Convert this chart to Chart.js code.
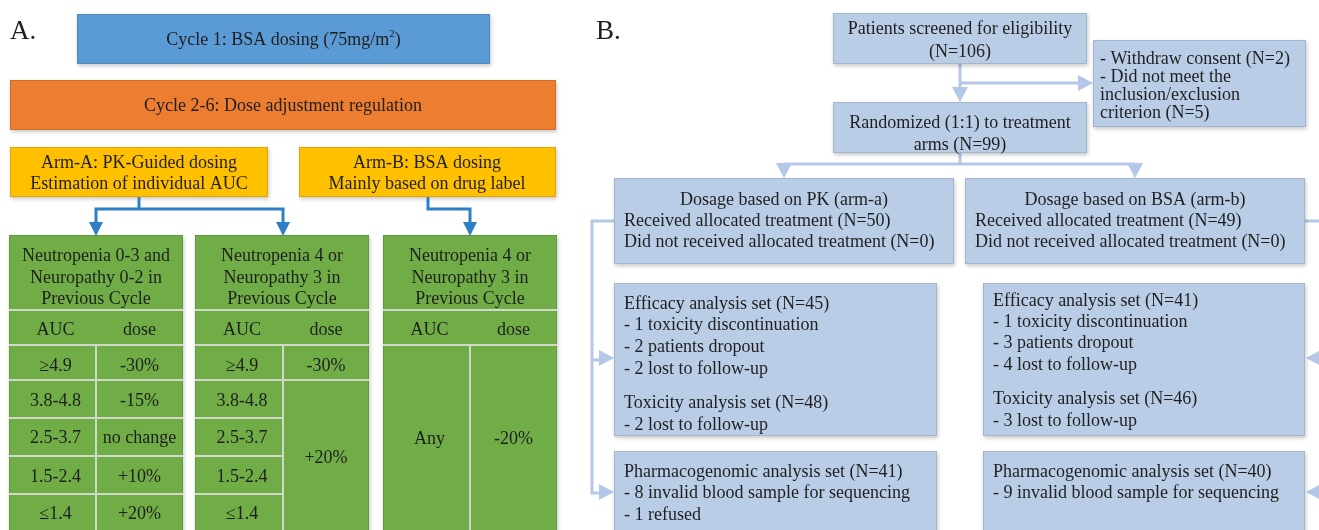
<!DOCTYPE html>
<html>
<head>
<meta charset="utf-8">
<style>
  html, body { margin: 0; padding: 0; background: #fff; }
  #wrap { width: 1319px; height: 530px; }
</style>
</head>
<body>
<div id="wrap"><canvas id="chart" width="1319" height="530"></canvas></div>
<script src="https://cdn.jsdelivr.net/npm/chart.js@4"></script>
<script>
// ---- panel A texts
const panelLabels = ['A.', 'B.'];
const cycleOne = ['Cycle 1: BSA dosing (75mg/m', '2', ')'];
const cycleTwo = 'Cycle 2-6: Dose adjustment regulation';
const armA = ['Arm-A: PK-Guided dosing', 'Estimation of individual AUC'];
const armB = ['Arm-B: BSA dosing', 'Mainly based on drug label'];
const groupTitles = [
    ['Neutropenia 0-3 and', 'Neuropathy 0-2 in', 'Previous Cycle'],
    ['Neutropenia 4 or', 'Neuropathy 3 in', 'Previous Cycle'],
    ['Neutropenia 4 or', 'Neuropathy 3 in', 'Previous Cycle']
];
const columnHeads = ['AUC', 'dose'];
const aucRanges = ['≥4.9', '3.8-4.8', '2.5-3.7', '1.5-2.4', '≤1.4'];
const doseLow = ['-30%', '-15%', 'no change', '+10%', '+20%'];
const doseHigh = ['-30%', '+20%'];
const armBRule = ['Any', '-20%'];

// ---- panel B texts
const screened = ['Patients screened for eligibility', '(N=106)'];
const excluded = ['- Withdraw consent (N=2)', '- Did not meet the', 'inclusion/exclusion', 'criterion (N=5)'];
const randomized = ['Randomized (1:1) to treatment', 'arms (N=99)'];
const armTitles = ['Dosage based on PK (arm-a)', 'Dosage based on BSA (arm-b)'];
const receivedN = [50, 49];
const notReceivedN = [0, 0];
const efficacyN = [45, 41];
const efficacyLoss = [
    ['- 1 toxicity discontinuation', '- 2 patients dropout', '- 2 lost to follow-up'],
    ['- 1 toxicity discontinuation', '- 3 patients dropout', '- 4 lost to follow-up']
];
const toxicityN = [48, 46];
const toxicityLoss = [['- 2 lost to follow-up'], ['- 3 lost to follow-up']];
const pgxN = [41, 40];
const pgxLoss = [
    ['- 8 invalid blood sample for sequencing', '- 1 refused'],
    ['- 9 invalid blood sample for sequencing']
];

// layout in axis units (x 0..1319, y 0..530 top-down)
const FONT = '"Liberation Serif", "Times New Roman", serif';
const INK = '#1f1f1f';
const BLUE = '#5B9BD5', ORANGE = '#ED7D31', GOLD = '#FFC000', GREEN = '#70AD47';
const PALE = '#BACDE7', PALE_LINE = '#B4C7E7', ARROW = '#2F7FC7';

const diagram = {
    id: 'diagram',
    afterDraw(chart) {
        const ctx = chart.ctx;
        const sx = chart.scales.x, sy = chart.scales.y;
        const X = v => sx.getPixelForValue(v);
        const Y = v => sy.getPixelForValue(v);

        function box(x0, y0, x1, y1, fill) {
            ctx.save();
            ctx.shadowColor = 'rgba(0,0,0,0.22)';
            ctx.shadowBlur = 4;
            ctx.shadowOffsetX = 1;
            ctx.shadowOffsetY = 2;
            ctx.fillStyle = fill;
            ctx.fillRect(X(x0), Y(y0), X(x1) - X(x0), Y(y1) - Y(y0));
            ctx.restore();
            ctx.save();
            ctx.strokeStyle = 'rgba(0,0,0,0.12)';
            ctx.lineWidth = 1;
            ctx.strokeRect(X(x0) + 0.5, Y(y0) + 0.5, X(x1) - X(x0) - 1, Y(y1) - Y(y0) - 1);
            ctx.restore();
        }
        function text(str, x, y, align, size) {
            ctx.save();
            ctx.font = (size || 18) + 'px ' + FONT;
            ctx.fillStyle = INK;
            ctx.textAlign = align || 'center';
            ctx.textBaseline = 'middle';
            ctx.fillText(str, X(x), Y(y));
            ctx.restore();
        }
        function lines(list, x, ys, align) {
            list.forEach((s, i) => text(s, x, ys[i], align));
        }
        function path(pts, color, w) {
            ctx.save();
            ctx.strokeStyle = color;
            ctx.lineWidth = w;
            ctx.lineJoin = 'miter';
            ctx.beginPath();
            pts.forEach((p, i) => i ? ctx.lineTo(X(p[0]), Y(p[1])) : ctx.moveTo(X(p[0]), Y(p[1])));
            ctx.stroke();
            ctx.restore();
        }
        function head(x, y, dir, color, half, len) {
            ctx.save();
            ctx.fillStyle = color;
            ctx.beginPath();
            const tx = X(x), ty = Y(y);
            if (dir === 'down') { ctx.moveTo(tx, ty); ctx.lineTo(tx - half, ty - len); ctx.lineTo(tx + half, ty - len); }
            if (dir === 'right') { ctx.moveTo(tx, ty); ctx.lineTo(tx - len, ty - half); ctx.lineTo(tx - len, ty + half); }
            if (dir === 'left') { ctx.moveTo(tx, ty); ctx.lineTo(tx + len, ty - half); ctx.lineTo(tx + len, ty + half); }
            ctx.closePath();
            ctx.fill();
            ctx.restore();
        }
        function cellLine(x0, y0, x1, y1) {
            path([[x0, y0], [x1, y1]], '#D2D9CB', 2);
        }

        // ===== panel A
        text(panelLabels[0], 10, 32, 'left', 27);
        box(77, 14, 490, 64, BLUE);
        ctx.save();
        ctx.font = '18px ' + FONT;
        const w1 = ctx.measureText(cycleOne[0]).width;
        const w3 = ctx.measureText(cycleOne[2]).width;
        ctx.font = '11px ' + FONT;
        const w2 = ctx.measureText(cycleOne[1]).width;
        ctx.restore();
        const startX = (77 + 490) / 2 - (w1 + w2 + w3) / 2;
        text(cycleOne[0], startX, 40, 'left');
        text(cycleOne[1], startX + w1, 34, 'left', 11);
        text(cycleOne[2], startX + w1 + w2, 40, 'left');

        box(10, 80, 556, 130, ORANGE);
        text(cycleTwo, 283, 106);

        box(10, 147, 268, 197, GOLD);
        lines(armA, 139, [163, 184]);
        box(299, 147, 556, 197, GOLD);
        lines(armB, 427, [163, 184]);

        path([[139, 197], [139, 209]], ARROW, 3);
        path([[96, 230], [96, 209], [283, 209], [283, 230]], ARROW, 3);
        head(96, 236, 'down', ARROW, 7, 14);
        head(283, 236, 'down', ARROW, 7, 14);
        path([[428, 197], [428, 209], [470, 209], [470, 230]], ARROW, 3);
        head(470, 236, 'down', ARROW, 7, 14);

        const groups = [[9, 183, 96], [195, 369, 283], [383, 557, 470]];
        const rowLines = [380, 418, 456, 494];
        const rowMid = [366, 401, 438, 477, 514];
        groups.forEach((g, gi) => {
            const [x0, x1, xm] = g;
            box(x0, 235, x1, 545, GREEN);
            lines(groupTitles[gi], (x0 + x1) / 2, [256, 278, 299]);
            cellLine(x0, 310, x1, 310);
            cellLine(x0, 345, x1, 345);
            cellLine(xm, 345, xm, 545);
            const ca = (x0 + xm) / 2 + 3, cd = (xm + x1) / 2;
            text(columnHeads[0], ca, 330);
            text(columnHeads[1], cd, 330);
            if (gi === 0) {
                rowLines.forEach(r => cellLine(x0, r, x1, r));
                aucRanges.forEach((s, i) => text(s, ca, rowMid[i]));
                doseLow.forEach((s, i) => text(s, cd, rowMid[i]));
            } else if (gi === 1) {
                cellLine(x0, rowLines[0], x1, rowLines[0]);
                rowLines.slice(1).forEach(r => cellLine(x0, r, xm, r));
                aucRanges.forEach((s, i) => text(s, ca, rowMid[i]));
                text(doseHigh[0], cd, rowMid[0]);
                text(doseHigh[1], cd, 458);
            } else {
                text(armBRule[0], ca, 439);
                text(armBRule[1], cd, 439);
            }
        });

        // ===== panel B
        text(panelLabels[1], 596, 32, 'left', 27);

        path([[960, 64], [960, 88]], PALE_LINE, 3);
        head(960, 102, 'down', PALE_LINE, 8, 15);
        path([[960, 83], [1079, 83]], PALE_LINE, 3);
        head(1093, 83, 'right', PALE_LINE, 8, 15);
        path([[960, 153], [960, 164]], PALE_LINE, 3);
        path([[784, 164], [1135, 164]], PALE_LINE, 3);
        head(784, 178, 'down', PALE_LINE, 8, 15);
        head(1135, 178, 'down', PALE_LINE, 8, 15);
        path([[614, 221], [592, 221], [592, 493], [600, 493]], PALE_LINE, 3);
        path([[592, 360], [600, 360]], PALE_LINE, 3);
        head(614, 358, 'right', PALE_LINE, 8, 15);
        head(614, 492, 'right', PALE_LINE, 8, 15);
        path([[1305, 221], [1324, 221], [1324, 493]], PALE_LINE, 3);
        head(1306, 358, 'left', PALE_LINE, 8, 15);
        head(1306, 492, 'left', PALE_LINE, 8, 15);

        box(833, 13, 1087, 64, PALE);
        lines(screened, 960, [29, 52]);
        box(1093, 40, 1306, 127, PALE);
        lines(excluded, 1100, [59, 77, 95, 113], 'left');
        box(833, 102, 1087, 153, PALE);
        lines(randomized, 960, [123, 145]);

        const arms = [[614, 954], [965, 1305]];
        arms.forEach((a, i) => {
            box(a[0], 178, a[1], 264, PALE);
            text(armTitles[i], (a[0] + a[1]) / 2, 200);
            text('Received allocated treatment (N=' + receivedN[i] + ')', a[0] + 10, 221, 'left');
            text('Did not received allocated treatment (N=' + notReceivedN[i] + ')', a[0] + 10, 242, 'left');
        });

        const sets = [[614, 937, 624, [304, 325, 347, 369, 403, 425]], [983, 1305, 993, [301, 322, 343, 365, 399, 421]]];
        sets.forEach((s, i) => {
            const [x0, x1, tx, ys] = s;
            box(x0, 283, x1, 436, PALE);
            const block = ['Efficacy analysis set (N=' + efficacyN[i] + ')'].concat(efficacyLoss[i],
                ['Toxicity analysis set (N=' + toxicityN[i] + ')'], toxicityLoss[i]);
            lines(block, tx, ys, 'left');
            box(x0, 451, x1, 545, PALE);
            lines(['Pharmacogenomic analysis set (N=' + pgxN[i] + ')'].concat(pgxLoss[i]), tx, [472, 493, 515], 'left');
        });
    }
};

const chart = new Chart(document.getElementById('chart'), {
    type: 'scatter',
    data: { datasets: [{ data: [], pointRadius: 0 }] },
    options: {
        responsive: false,
        animation: false,
        devicePixelRatio: 1,
        layout: { padding: 0 },
        plugins: { legend: { display: false }, tooltip: { enabled: false } },
        scales: {
            x: { type: 'linear', min: 0, max: 1319, display: false },
            y: { type: 'linear', min: 0, max: 530, reverse: true, display: false }
        }
    },
    plugins: [diagram]
});
</script>
</body>
</html>
